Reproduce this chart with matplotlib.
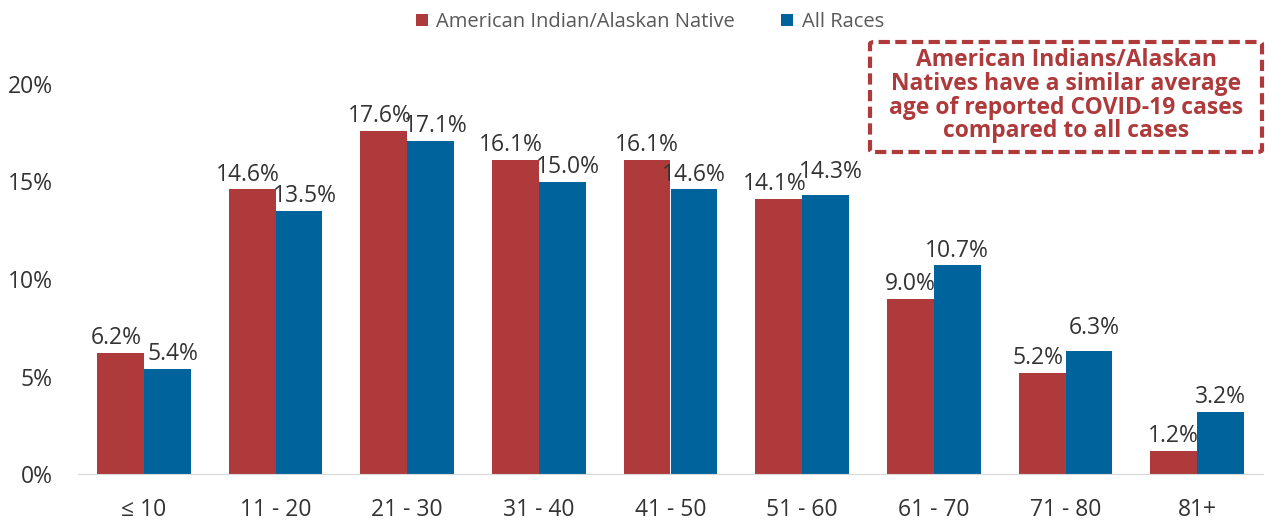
import matplotlib
matplotlib.use("Agg")
import matplotlib.pyplot as plt
import numpy as np
from matplotlib.patches import FancyBboxPatch

categories = ["≤ 10", "11 - 20", "21 - 30", "31 - 40", "41 - 50", "51 - 60", "61 - 70", "71 - 80", "81+"]
aian = [6.2, 14.6, 17.6, 16.1, 16.1, 14.1, 9.0, 5.2, 1.2]
all_races = [5.4, 13.5, 17.1, 15.0, 14.6, 14.3, 10.7, 6.3, 3.2]
series_names = ["American Indian/Alaskan Native", "All Races"]
yticks = [0, 5, 10, 15, 20]

RED = "#AE3A3B"
BLUE = "#00639C"
TXT = "#333333"

plt.rcParams["font.family"] = ["Open Sans", "DejaVu Sans"]

fig = plt.figure(figsize=(12.76, 5.21), dpi=100)
ax = fig.add_axes([78/1276, 1-474/521, (1263-78)/1276, (474-84)/521])

x = np.arange(len(categories))
w = 0.355
b1 = ax.bar(x - w/2, aian, w, color=RED, label=series_names[0])
b2 = ax.bar(x + w/2, all_races, w, color=BLUE, label=series_names[1])

# data labels, nudged apart when the two values of a group are close
for i in range(len(categories)):
    a, b = aian[i], all_races[i]
    close = abs(a - b) < 1.3
    dxa, dxb = (-3, 4) if close else (0, 0)
    dyb = 6 if (close and b > a) else 0
    ax.annotate(f"{a:.1f}%", (b1[i].get_x() + w/2, a), xytext=(dxa, 2),
                textcoords="offset points", ha="center", va="bottom",
                fontsize=16.5, color=TXT, clip_on=False)
    ax.annotate(f"{b:.1f}%", (b2[i].get_x() + w/2, b), xytext=(dxb, 2 + dyb),
                textcoords="offset points", ha="center", va="bottom",
                fontsize=16.5, color=TXT, clip_on=False)

ax.set_xlim(-0.5, len(categories) - 0.5)
ax.set_ylim(0, 20)
ax.set_yticks(yticks)
ax.set_yticklabels([f"{t}%" for t in yticks])
ax.set_xticks(x)
ax.set_xticklabels(categories)
ax.tick_params(axis="both", length=0, labelsize=16.5, labelcolor=TXT)
ax.tick_params(axis="y", pad=18)
ax.tick_params(axis="x", pad=17)
for s in ("top", "right", "left"):
    ax.spines[s].set_visible(False)
ax.spines["bottom"].set_color("#D9D9D9")

fig.legend(handles=[b1, b2], loc="center", bbox_to_anchor=(650/1276, 1-22/521), ncol=2,
           frameon=False, fontsize=14.5, labelcolor="#595959", handlelength=0.6,
           handleheight=0.6, columnspacing=2.3, handletextpad=0.4)

# annotation box
bx0, by0, bx1, by1 = 870/1276, 1-152/521, 1262/1276, 1-42/521
box = FancyBboxPatch((bx0, by0), bx1 - bx0, by1 - by0, boxstyle="round,pad=0,rounding_size=0.004",
                     transform=fig.transFigure, fill=False, edgecolor=RED, linewidth=3,
                     linestyle=(0, (2.7, 1.3)))
fig.patches.append(box)
fig.text((bx0 + bx1)/2, (by0 + by1)/2 + 0.002,
         "American Indians/Alaskan\nNatives have a similar average\nage of reported COVID-19 cases\ncompared to all cases",
         ha="center", va="center", fontsize=16.5, fontweight="bold", color=RED, linespacing=0.98)

fig.savefig("out.png", dpi=100)
